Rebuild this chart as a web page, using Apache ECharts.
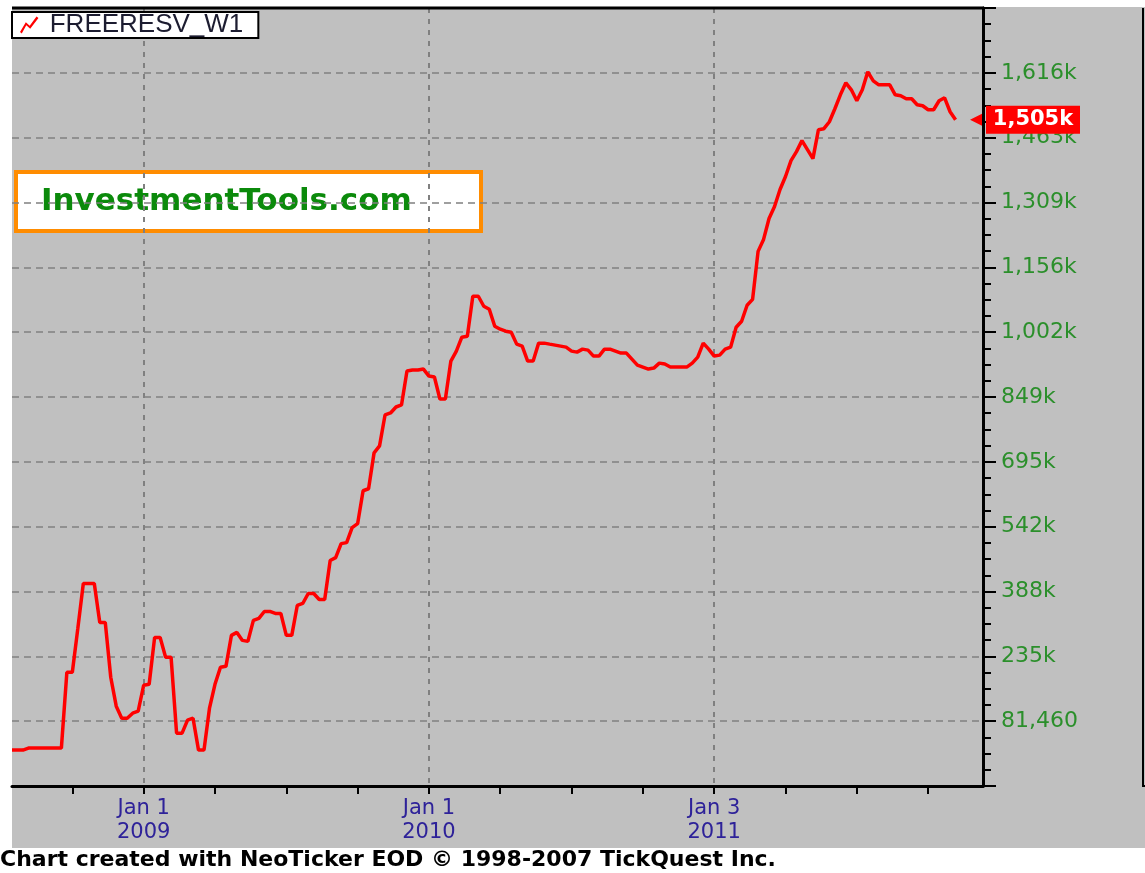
<!DOCTYPE html>
<html>
<head>
<meta charset="utf-8">
<script src="https://cdn.jsdelivr.net/npm/echarts@6.0.0/dist/echarts.min.js"></script>
<style>
html,body{margin:0;padding:0;background:#fff;}
#chart{width:1145px;height:873px;}
</style>
</head>
<body>
<div id="chart"></div>
<script>
// ---- data ----
const seriesName = 'FREERESV_W1';
const firstWeek = '2008-07-19';
const weekCount = 178;
// weekly free reserves, in thousands
const freeReservesK = [
  13.0, 13.0, 13.0, 17.7, 17.7, 17.7, 17.7, 17.7, 17.7, 17.7,
  197.2, 197.2, 301.1, 407.3, 407.3, 407.3, 315.2, 315.2, 185.4, 116.9,
  88.5, 88.5, 100.4, 105.1, 166.5, 168.8, 279.8, 279.8, 232.6, 232.6,
  53.1, 53.1, 83.8, 88.5, 13.0, 13.0, 112.2, 168.8, 209.0, 211.3,
  284.6, 291.6, 272.7, 270.4, 320.0, 324.7, 341.2, 341.2, 336.5, 336.5,
  284.6, 284.6, 355.4, 360.1, 383.7, 383.7, 369.6, 369.6, 461.7, 468.7,
  501.8, 504.2, 539.6, 549.0, 627.0, 631.7, 716.7, 733.2, 806.4, 811.2,
  825.3, 830.1, 910.4, 912.7, 912.7, 915.1, 898.5, 896.2, 844.2, 844.2,
  934.0, 957.6, 990.6, 993.0, 1087.5, 1087.5, 1063.8, 1056.8, 1016.6, 1009.5,
  1004.8, 1002.4, 974.1, 969.4, 934.0, 934.0, 976.5, 976.5, 974.1, 971.8,
  969.4, 967.0, 957.6, 955.2, 962.3, 959.9, 945.8, 945.8, 962.3, 962.3,
  957.6, 952.9, 952.9, 938.7, 924.5, 919.8, 915.1, 917.4, 929.2, 926.9,
  919.8, 919.8, 919.8, 919.8, 929.2, 943.4, 976.5, 962.3, 945.8, 948.1,
  962.3, 967.0, 1014.2, 1028.4, 1066.2, 1080.0, 1193.7, 1222.1, 1271.7, 1300.0,
  1340.2, 1370.9, 1408.6, 1429.9, 1455.9, 1434.6, 1413.3, 1481.8, 1484.2, 1500.7,
  1531.4, 1564.5, 1592.8, 1576.3, 1550.3, 1576.3, 1618.8, 1597.6, 1588.0, 1588.0,
  1588.0, 1564.5, 1562.1, 1555.0, 1555.0, 1540.8, 1538.5, 1529.0, 1529.0, 1550.3,
  1557.4, 1524.3, 1505.4
];
const xTickYears = ['2009', '2010', '2011'];
const xTickDays = ['Jan 1', 'Jan 1', 'Jan 3'];
const yAxisMin = -72.04;
const yAxisStep = 153.5;
const yAxisMax = 1769.96;

// ---- helpers ----
const weekDates = [];
{
  const t0 = Date.parse(firstWeek + 'T00:00:00Z');
  for (let i = 0; i < weekCount; i++) {
    weekDates.push(new Date(t0 + i * 7 * 86400000).toISOString().slice(0, 10));
  }
}
function group(n) { return String(n).replace(/\B(?=(\d{3})+(?!\d))/g, ','); }
function fmtK(v) {
  if (Math.abs(v) < 100) return group(Math.round(v * 1000));
  return group(Math.round(v)) + 'k';
}
function isYearStart(i) {
  return i > 0 && weekDates[i].slice(0, 4) !== weekDates[i - 1].slice(0, 4);
}
function isQuarterStart(i) {
  const d = weekDates[i];
  const m = +d.slice(5, 7), day = +d.slice(8, 10);
  return (m === 1 || m === 4 || m === 7 || m === 10) && day <= 7;
}
const lastValue = freeReservesK[freeReservesK.length - 1];

const chart = echarts.init(document.getElementById('chart'), null, {renderer: 'canvas'});
const option = {
  animation: false,
  backgroundColor: '#c0c0c0',
  grid: {left: 12, right: 162, top: 8, bottom: 87, outerBoundsMode: 'none', containLabel: false},
  legend: {
    left: 12, top: 12,
    backgroundColor: '#ffffff', borderColor: '#000000', borderWidth: 2, borderRadius: 0,
    padding: [0, 15, 0, 8],
    itemWidth: 21, itemHeight: 17, itemGap: 0,
    selectedMode: false,
    data: [{
      name: seriesName,
      icon: 'path://M0,16 L6,6 L10,9.5 L17,0 L19,1.5 L10.5,12.5 L6.5,9 L1.8,17.5 Z',
      itemStyle: {color: '#ff0000'}
    }],
    textStyle: {color: '#1c1c30', fontSize: 26, lineHeight: 25, fontFamily: 'Liberation Sans', padding: [1, 0, 0, 5]}
  },
  xAxis: {
    type: 'category',
    data: weekDates,
    boundaryGap: false,
    axisLine: {show: true, onZero: false, lineStyle: {color: '#000', width: 3}},
    axisTick: {show: true, interval: (i) => isQuarterStart(i), length: 8, lineStyle: {color: '#000', width: 2}},
    axisLabel: {
      interval: (i) => isYearStart(i),
      formatter: (value) => {
        const y = value.slice(0, 4);
        const k = xTickYears.indexOf(y);
        return (k >= 0 ? xTickDays[k] : '') + '\n' + y;
      },
      color: '#2e2299', fontSize: 21, fontFamily: 'DejaVu Sans', lineHeight: 24, margin: 11
    },
    splitLine: {show: true, interval: (i) => isYearStart(i), lineStyle: {color: '#808080', width: 2, type: [5, 6]}}
  },
  yAxis: {
    type: 'value',
    position: 'right',
    min: yAxisMin, max: yAxisMax, interval: yAxisStep,
    axisLine: {show: true, onZero: false, lineStyle: {color: '#000', width: 3}},
    axisTick: {show: true, length: 13, lineStyle: {color: '#000', width: 2}},
    minorTick: {show: true, splitNumber: 4, length: 8, lineStyle: {color: '#000', width: 2}},
    axisLabel: {
      showMinLabel: false, showMaxLabel: false,
      formatter: (v) => fmtK(v),
      color: '#2b8f2b', fontSize: 22, fontFamily: 'DejaVu Sans', margin: 18
    },
    splitLine: {show: true, lineStyle: {color: '#808080', width: 1.5, type: [7, 5]}}
  },
  series: [{
    name: seriesName,
    type: 'line',
    data: freeReservesK,
    symbol: 'none',
    showSymbol: false,
    lineStyle: {color: '#ff0000', width: 3.5},
    itemStyle: {color: '#ff0000'},
    z: 5,
    markPoint: {
      symbol: 'path://M0,14 L12,8 L12,20 Z M16,0 L110,0 L110,28 L16,28 Z',
      symbolSize: [110, 28],
      symbolOffset: [42, 0],
      symbolKeepAspect: false,
      itemStyle: {color: '#ff0000'},
      label: {
        show: true, position: 'inside', offset: [8, 0],
        color: '#ffffff', fontWeight: 'bold', fontSize: 21, fontFamily: 'DejaVu Sans',
        formatter: (p) => fmtK(p.value)
      },
      data: [{coord: [weekDates[weekDates.length - 1], lastValue], value: lastValue}]
    }
  }],
  graphic: [
    {type: 'rect', z: -1, shape: {x: 0, y: 0, width: 1145, height: 7}, style: {fill: '#ffffff'}},
    {type: 'rect', z: -1, shape: {x: 0, y: 0, width: 12, height: 873}, style: {fill: '#ffffff'}},
    {type: 'rect', z: -1, shape: {x: 0, y: 848, width: 1145, height: 25}, style: {fill: '#ffffff'}},
    {type: 'rect', z: -1, shape: {x: 16, y: 172, width: 465, height: 59}, style: {fill: '#ffffff', stroke: '#ff8c00', lineWidth: 4}},
    {type: 'text', z: -1, style: {x: 41, y: 202, text: 'InvestmentTools.com', fill: '#0b8a0b', font: 'bold 31px "DejaVu Sans"', textVerticalAlign: 'middle'}},
    {type: 'line', z: 10, shape: {x1: 12, y1: 8, x2: 984, y2: 8}, style: {stroke: '#000', lineWidth: 3}},
    {type: 'polyline', z: 10, shape: {points: [[1143, 8], [1143, 786], [1146, 786]]}, style: {stroke: '#000', lineWidth: 2, fill: null}},
    {type: 'text', z: 10, style: {x: 0, y: 860, text: 'Chart created with NeoTicker EOD \u00a9 1998-2007 TickQuest Inc.', fill: '#000', font: 'bold 22px "DejaVu Sans"', textVerticalAlign: 'middle'}}
  ]
};
chart.setOption(option);
</script>
</body>
</html>
